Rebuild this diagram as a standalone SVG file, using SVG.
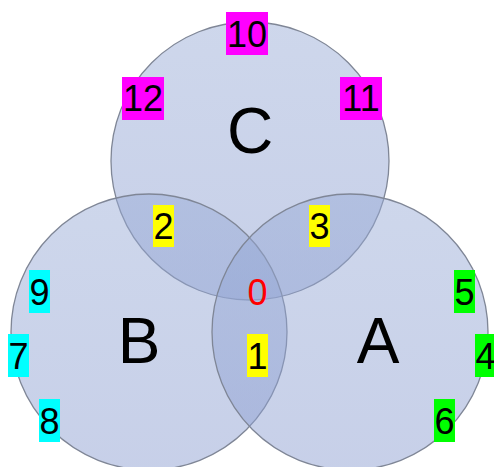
<svg xmlns="http://www.w3.org/2000/svg" width="494" height="467" viewBox="0 0 494 467">
<defs>
<linearGradient id="g" x1="0" y1="0" x2="0" y2="1">
<stop offset="0" stop-color="rgb(152,171,214)"/>
<stop offset="1" stop-color="rgb(138,156,208)"/>
</linearGradient>
</defs>
<style>
.set{fill:url(#g);fill-opacity:0.48;stroke:#7f8696;stroke-width:1.3}
.big{font-family:"Liberation Sans",Arial,sans-serif;font-size:64px;fill:#000;text-anchor:middle}
.num{font-family:"Liberation Sans",Arial,sans-serif;font-size:36px;fill:#000;text-anchor:middle}
.m{fill:#ff00ff}.c{fill:#00ffff}.gr{fill:#00ff00}.y{fill:#ffff00}
</style>
<rect width="494" height="467" fill="#fff"/>
<g id="setC"><circle class="set" cx="250" cy="161" r="139"/><text class="big" x="250" y="153">C</text></g>
<g id="setB"><circle class="set" cx="149" cy="332" r="138"/><text class="big" x="139" y="363">B</text></g>
<g id="setA"><circle class="set" cx="350" cy="332" r="138"/><text class="big" x="378" y="363">A</text></g>
<g id="n10"><rect class="m" x="226" y="12" width="42" height="43"/><text class="num" x="247" y="47">10</text></g>
<g id="n12"><rect class="m" x="122" y="77" width="42" height="43"/><text class="num" x="143" y="111">12</text></g>
<g id="n11"><rect class="m" x="340" y="77" width="42" height="43"/><text class="num" x="361" y="111">11</text></g>
<g id="n2"><rect class="y" x="153" y="205" width="21" height="42"/><text class="num" x="163.5" y="239">2</text></g>
<g id="n3"><rect class="y" x="309" y="205" width="21" height="42"/><text class="num" x="319.5" y="239">3</text></g>
<g id="n0"><text class="num" x="257.5" y="305" fill="#ff0000" style="fill:#ff0000">0</text></g>
<g id="n1"><rect class="y" x="247" y="334" width="21" height="43"/><text class="num" x="257.5" y="369">1</text></g>
<g id="n9"><rect class="c" x="29" y="270" width="21" height="43"/><text class="num" x="39.5" y="305">9</text></g>
<g id="n7"><rect class="c" x="8" y="334" width="21" height="43"/><text class="num" x="18.5" y="369">7</text></g>
<g id="n8"><rect class="c" x="39" y="399" width="21" height="43"/><text class="num" x="49.5" y="434">8</text></g>
<g id="n5"><rect class="gr" x="454" y="270" width="21" height="43"/><text class="num" x="464.5" y="305">5</text></g>
<g id="n4"><rect class="gr" x="475" y="334" width="21" height="43"/><text class="num" x="485.5" y="369">4</text></g>
<g id="n6"><rect class="gr" x="434" y="399" width="21" height="43"/><text class="num" x="444.5" y="434">6</text></g>
</svg>
